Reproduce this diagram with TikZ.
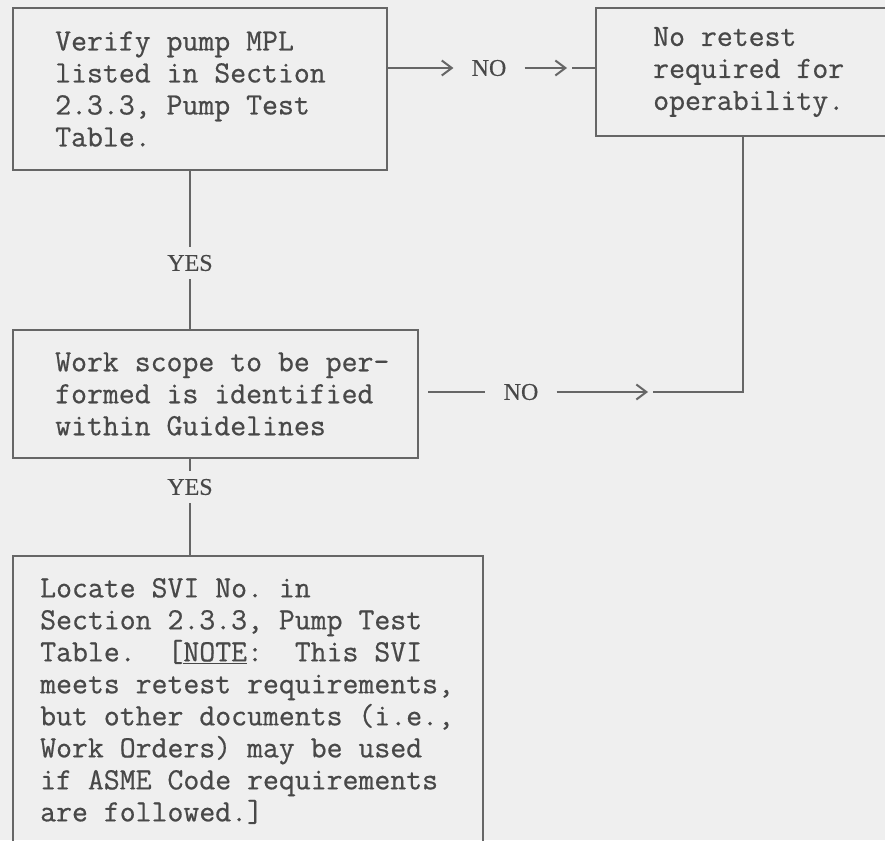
\documentclass[tikz,border=0pt]{standalone}
\usepackage{fontspec}
\usetikzlibrary{arrows.meta}
\newfontfamily\boxfont{Latin Modern Mono}[FakeBold=0.6]
\newfontfamily\labelfont{Liberation Serif}[FakeBold=0.4]
\definecolor{paper}{HTML}{EFEFEF}
\definecolor{inkgray}{HTML}{484848}
\definecolor{linegray}{HTML}{666666}
\frenchspacing
\begin{document}
\begin{tikzpicture}[x=1pt,y=-1pt,
    flowbox/.style={draw=linegray,line width=2pt,anchor=north west,inner sep=0pt},
    boxtext/.style={anchor=west,align=left,inner sep=0pt,text=inkgray,
        font=\boxfont\fontsize{30.9}{32}\selectfont},
    flowlabel/.style={inner xsep=18pt,inner ysep=8pt,text=inkgray,
        font=\labelfont\fontsize{24}{24}\selectfont},
    flowline/.style={draw=linegray,line width=2pt},
    chevronline/.style={flowline,-{Straight Barb[length=10pt,width=15pt]}}]
            % Page
            \useasboundingbox (0,0) rectangle (885,840);
            \clip (0,0) rectangle (885,840);
            \fill[paper] (0,0) rectangle (885,840);

            % Boxes
            \node[flowbox,minimum width=374pt,minimum height=162pt] (verify) at (12,7) {};
            \node[flowbox,minimum width=294pt,minimum height=128pt] (noretest) at (595,7) {};
            \node[flowbox,minimum width=405pt,minimum height=128pt] (workscope) at (12,329) {};
            \node[flowbox,minimum width=470pt,minimum height=290pt] (locate) at (12,555) {};

            % Box texts
            \node[boxtext] (verifytext) at ([xshift=43pt]verify.west)
                {Verify pump MPL\\listed in Section\\2.3.3, Pump Test\\Table.};
            \node[boxtext] (noretesttext) at ([xshift=58pt]noretest.west)
                {No retest\\required for\\operability.};
            \node[boxtext] (workscopetext) at ([xshift=43pt]workscope.west)
                {Work scope to be per-\\formed is identified\\within Guidelines};
            \node[boxtext] (locatetext) at ([xshift=28pt]locate.west)
                {Locate SVI No. in\\Section 2.3.3, Pump Test\\Table.~~[\underline{NOTE}:~~This SVI\\meets retest requirements,\\but other documents (i.e.,\\Work Orders) may be used\\if ASME Code requirements\\are followed.]};

            % Labels
            \node[flowlabel] (yes1) at (190,263) {YES};
            \node[flowlabel] (yes2) at (190,487) {YES};
            \node[flowlabel] (no1) at (489,68) {NO};
            \node[flowlabel] (no2) at (521,392) {NO};
            \coordinate (tipa) at (567,68);
            \coordinate (tipb) at (648,392);

            % YES branches
            \draw[flowline] (yes1 |- verify.south) -- (yes1.north);
            \draw[flowline] (yes1.south) -- (yes1 |- workscope.north);
            \draw[flowline] (yes2 |- workscope.south) -- (yes2.north);
            \draw[flowline] (yes2.south) -- (yes2 |- locate.north);

            % NO branches
            \draw[chevronline] (verify.east |- no1) -- (no1.west);
            \draw[chevronline] (no1.east) -- (tipa);
            \draw[flowline] ([xshift=5pt]tipa) -- (noretest.west |- tipa);
            \draw[flowline,shorten <=9pt] (workscope.east |- no2) -- (no2.west);
            \draw[chevronline] (no2.east) -- (tipb);
            \draw[flowline] ([xshift=5pt]tipb) -| (noretest.south);
\end{tikzpicture}
\end{document}
